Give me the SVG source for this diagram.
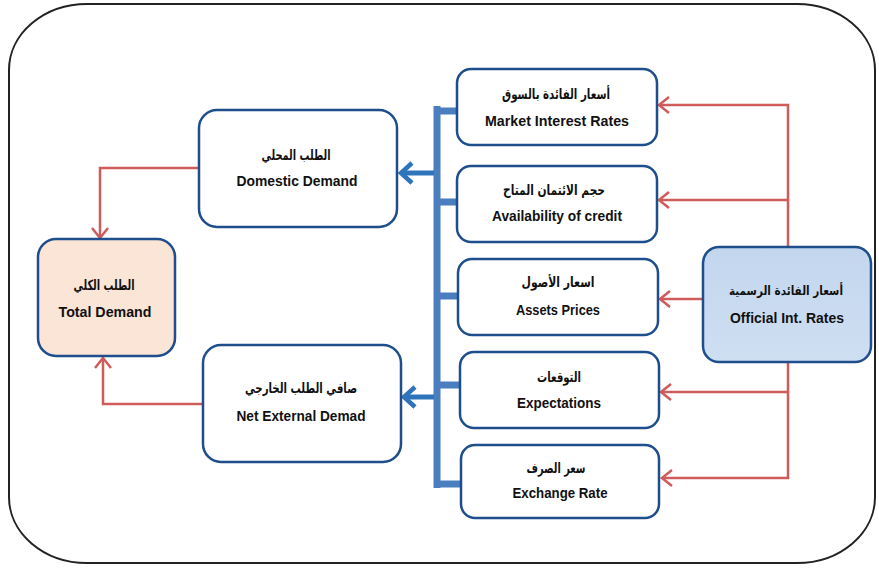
<svg xmlns="http://www.w3.org/2000/svg" width="879" height="569" viewBox="0 0 879 569">
<defs>
<style>
.box{fill:#ffffff;stroke:#1f4e8c;stroke-width:2.5}
.en{font-family:"Liberation Sans",Arial,sans-serif;font-weight:bold;font-size:15px;fill:#111;text-anchor:middle}
.ar{font-family:"DejaVu Sans","Noto Sans",sans-serif;font-weight:bold;font-size:14px;fill:#111;text-anchor:middle}
.red{fill:none;stroke:#cf5b5b;stroke-width:2.5}
.bus{fill:none;stroke:#4a7ebf;stroke-width:7}
.blue{fill:none;stroke:#2e74bb;stroke-width:5}
</style>
<marker id="ra" viewBox="0 0 12 18" refX="11" refY="9" markerWidth="12" markerHeight="18" markerUnits="userSpaceOnUse" orient="auto" overflow="visible">
<path d="M1,1 L11,9 L1,17" fill="none" stroke="#cf5b5b" stroke-width="2.5"/>
</marker>
<marker id="ba" viewBox="0 0 14 22" refX="12" refY="11" markerWidth="14" markerHeight="22" markerUnits="userSpaceOnUse" orient="auto" overflow="visible">
<path d="M1,1 L12,11 L1,21" fill="none" stroke="#2e74bb" stroke-width="4.5"/>
</marker>
<linearGradient id="og" x1="0" y1="0" x2="0" y2="1">
<stop offset="0" stop-color="#c2d6ee"/>
<stop offset="1" stop-color="#cfdff2"/>
</linearGradient>
</defs>

<rect x="9" y="4" width="866" height="559" rx="78" ry="66" fill="#ffffff" stroke="#222" stroke-width="2"/>

<g id="connectors">
<path class="bus" d="M437,106 V488"/>
<path class="bus" d="M437,111 H458 M437,202 H458 M437,296 H459 M437,385 H460 M437,484 H461"/>
<path class="blue" d="M434,173 H401" marker-end="url(#ba)"/>
<path class="blue" d="M434,397 H404" marker-end="url(#ba)"/>
<path class="red" d="M788,247 V105 H659" marker-end="url(#ra)"/>
<path class="red" d="M788,200 H659" marker-end="url(#ra)"/>
<path class="red" d="M703,299 H660" marker-end="url(#ra)"/>
<path class="red" d="M788,362 V478 H662" marker-end="url(#ra)"/>
<path class="red" d="M788,392 H661" marker-end="url(#ra)"/>
<path class="red" d="M199,168 H100 V238" marker-end="url(#ra)"/>
<path class="red" d="M203,404 H103 V358" marker-end="url(#ra)"/>
</g>

<g id="market">
<rect class="box" x="457" y="69" width="200" height="76" rx="14"/>
<text class="ar" x="556" y="99" textLength="108" lengthAdjust="spacingAndGlyphs">أسعار  الفائدة بالسوق</text>
<text class="en" x="557" y="126" textLength="144" lengthAdjust="spacingAndGlyphs">Market Interest Rates</text>
</g>
<g id="credit">
<rect class="box" x="457" y="166" width="200" height="76" rx="14"/>
<text class="ar" x="554" y="195" textLength="102" lengthAdjust="spacingAndGlyphs">حجم الائتمان المتاح</text>
<text class="en" x="557" y="221" textLength="130" lengthAdjust="spacingAndGlyphs">Availability of credit</text>
</g>
<g id="assets">
<rect class="box" x="458" y="259" width="200" height="76" rx="14"/>
<text class="ar" x="558" y="287" textLength="73" lengthAdjust="spacingAndGlyphs">اسعار الأصول</text>
<text class="en" x="558" y="315" textLength="84" lengthAdjust="spacingAndGlyphs">Assets Prices</text>
</g>
<g id="expectations">
<rect class="box" x="460" y="352" width="199" height="76" rx="14"/>
<text class="ar" x="559" y="382" textLength="44" lengthAdjust="spacingAndGlyphs">التوقعات</text>
<text class="en" x="559" y="408" textLength="84" lengthAdjust="spacingAndGlyphs">Expectations</text>
</g>
<g id="exchange">
<rect class="box" x="461" y="445" width="198" height="73" rx="14"/>
<text class="ar" x="556" y="473" textLength="59" lengthAdjust="spacingAndGlyphs">سعر الصرف</text>
<text class="en" x="560" y="498" textLength="95" lengthAdjust="spacingAndGlyphs">Exchange Rate</text>
</g>
<g id="official">
<rect x="703" y="247" width="168" height="115" rx="16" fill="url(#og)" stroke="#1f4e8c" stroke-width="2.5"/>
<text class="ar" x="786" y="295" style="font-size:12.5px" textLength="114" lengthAdjust="spacingAndGlyphs">أسعار الفائدة الرسمية</text>
<text class="en" x="787" y="323" textLength="114" lengthAdjust="spacingAndGlyphs">Official Int. Rates</text>
</g>
<g id="domestic">
<rect class="box" x="199" y="110" width="198" height="117" rx="18"/>
<text class="ar" x="296" y="160" textLength="69" lengthAdjust="spacingAndGlyphs">الطلب المحلي</text>
<text class="en" x="297" y="186" textLength="121" lengthAdjust="spacingAndGlyphs">Domestic Demand</text>
</g>
<g id="total">
<rect x="38" y="239" width="137" height="117" rx="18" fill="#fbe5d7" stroke="#1f4e8c" stroke-width="2.5"/>
<text class="ar" x="104" y="290" textLength="61" lengthAdjust="spacingAndGlyphs">الطلب الكلي</text>
<text class="en" x="105" y="317" textLength="93" lengthAdjust="spacingAndGlyphs">Total Demand</text>
</g>
<g id="external">
<rect class="box" x="203" y="345" width="198" height="117" rx="18"/>
<text class="ar" x="301" y="393" textLength="112" lengthAdjust="spacingAndGlyphs">صافي الطلب الخارجي</text>
<text class="en" x="301" y="421" textLength="129" lengthAdjust="spacingAndGlyphs">Net External Demad</text>
</g>
</svg>
